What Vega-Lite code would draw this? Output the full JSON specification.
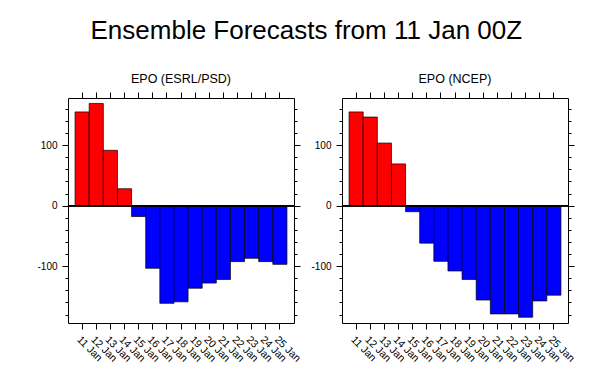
{
  "$schema": "https://vega.github.io/schema/vega-lite/v6.json",
  "background": "white",
  "padding": {"left": 36, "top": 17, "right": 0, "bottom": 0},
  "title": {"text": "Ensemble Forecasts from 11 Jan 00Z", "font": "Liberation Sans", "fontSize": 26, "fontWeight": "normal", "color": "black", "anchor": "middle", "offset": 29},
  "config": {
    "view": {"stroke": "black", "strokeWidth": 1},
    "axis": {"tickColor": "black", "tickWidth": 1, "labelColor": "black", "labelFont": "Liberation Sans", "labelFontSize": 10, "domain": false, "grid": false, "title": null, "labelOverlap": false, "labelFlush": false},
    "title": {"font": "Liberation Sans", "fontWeight": "normal", "color": "black"}
  },
  "data": {"values": [
    {"panel": "ESRL", "day": "11 Jan", "value": 155},
    {"panel": "ESRL", "day": "12 Jan", "value": 169},
    {"panel": "ESRL", "day": "13 Jan", "value": 91.5},
    {"panel": "ESRL", "day": "14 Jan", "value": 28},
    {"panel": "ESRL", "day": "15 Jan", "value": -18},
    {"panel": "ESRL", "day": "16 Jan", "value": -103.5},
    {"panel": "ESRL", "day": "17 Jan", "value": -161.5},
    {"panel": "ESRL", "day": "18 Jan", "value": -159},
    {"panel": "ESRL", "day": "19 Jan", "value": -136.5},
    {"panel": "ESRL", "day": "20 Jan", "value": -128},
    {"panel": "ESRL", "day": "21 Jan", "value": -122},
    {"panel": "ESRL", "day": "22 Jan", "value": -92.5},
    {"panel": "ESRL", "day": "23 Jan", "value": -87},
    {"panel": "ESRL", "day": "24 Jan", "value": -92.5},
    {"panel": "ESRL", "day": "25 Jan", "value": -97},
    {"panel": "NCEP", "day": "11 Jan", "value": 155},
    {"panel": "NCEP", "day": "12 Jan", "value": 146.5},
    {"panel": "NCEP", "day": "13 Jan", "value": 103.5},
    {"panel": "NCEP", "day": "14 Jan", "value": 69},
    {"panel": "NCEP", "day": "15 Jan", "value": -10},
    {"panel": "NCEP", "day": "16 Jan", "value": -62},
    {"panel": "NCEP", "day": "17 Jan", "value": -92},
    {"panel": "NCEP", "day": "18 Jan", "value": -108},
    {"panel": "NCEP", "day": "19 Jan", "value": -122},
    {"panel": "NCEP", "day": "20 Jan", "value": -156},
    {"panel": "NCEP", "day": "21 Jan", "value": -179},
    {"panel": "NCEP", "day": "22 Jan", "value": -179},
    {"panel": "NCEP", "day": "23 Jan", "value": -184.5},
    {"panel": "NCEP", "day": "24 Jan", "value": -157.5},
    {"panel": "NCEP", "day": "25 Jan", "value": -148}
  ]},
  "spacing": 7,
  "hconcat": [
    {
      "width": 226, "height": 225,
      "title": {"text": "EPO (ESRL/PSD)", "fontSize": 12.5, "offset": 6},
      "transform": [{"filter": "datum.panel === 'ESRL'"}],
      "layer": [
        {
          "mark": {"type": "bar", "stroke": "black", "strokeWidth": 0.7},
          "encoding": {
            "x": {"field": "day", "type": "ordinal", "scale": {"paddingInner": 0, "paddingOuter": 0.5}, "axis": {"orient": "bottom", "labelAngle": 45, "labelAlign": "left", "labelBaseline": "top", "tickSize": 6, "labelPadding": 5, "labelFontSize": 10.5}},
            "y": {"field": "value", "type": "quantitative", "scale": {"domain": [-194, 178], "nice": false, "zero": false}, "axis": {"orient": "left", "values": [-180, -160, -140, -120, -100, -80, -60, -40, -20, 0, 20, 40, 60, 80, 100, 120, 140, 160], "labelExpr": "datum.value % 100 === 0 ? '' + datum.value : ''", "tickSize": {"condition": {"test": "datum.value % 100 === 0", "value": 6}, "value": 3}, "labelPadding": 5}},
            "color": {"condition": {"test": "datum.value > 0", "value": "#ff0000"}, "value": "#0000ff"}
          }
        },
        {
          "mark": {"type": "bar", "opacity": 0},
          "encoding": {
            "x": {"field": "day", "type": "ordinal", "axis": {"orient": "top", "labels": false, "tickSize": 6}},
            "y": {"field": "value", "type": "quantitative", "axis": {"orient": "right", "labels": false, "values": [-180, -160, -140, -120, -100, -80, -60, -40, -20, 0, 20, 40, 60, 80, 100, 120, 140, 160], "tickSize": {"condition": {"test": "datum.value % 100 === 0", "value": 6}, "value": 3}}}
          }
        },
        {
          "mark": {"type": "rule", "color": "black", "strokeWidth": 1},
          "encoding": {"y": {"datum": 0, "type": "quantitative", "axis": null}}
        }
      ],
      "resolve": {"axis": {"x": "independent", "y": "independent"}}
    },
    {
      "width": 226, "height": 225,
      "title": {"text": "EPO (NCEP)", "fontSize": 12.5, "offset": 6},
      "transform": [{"filter": "datum.panel === 'NCEP'"}],
      "layer": [
        {
          "mark": {"type": "bar", "stroke": "black", "strokeWidth": 0.7},
          "encoding": {
            "x": {"field": "day", "type": "ordinal", "scale": {"paddingInner": 0, "paddingOuter": 0.5}, "axis": {"orient": "bottom", "labelAngle": 45, "labelAlign": "left", "labelBaseline": "top", "tickSize": 6, "labelPadding": 5, "labelFontSize": 10.5}},
            "y": {"field": "value", "type": "quantitative", "scale": {"domain": [-194, 178], "nice": false, "zero": false}, "axis": {"orient": "left", "values": [-180, -160, -140, -120, -100, -80, -60, -40, -20, 0, 20, 40, 60, 80, 100, 120, 140, 160], "labelExpr": "datum.value % 100 === 0 ? '' + datum.value : ''", "tickSize": {"condition": {"test": "datum.value % 100 === 0", "value": 6}, "value": 3}, "labelPadding": 5}},
            "color": {"condition": {"test": "datum.value > 0", "value": "#ff0000"}, "value": "#0000ff"}
          }
        },
        {
          "mark": {"type": "bar", "opacity": 0},
          "encoding": {
            "x": {"field": "day", "type": "ordinal", "axis": {"orient": "top", "labels": false, "tickSize": 6}},
            "y": {"field": "value", "type": "quantitative", "axis": {"orient": "right", "labels": false, "values": [-180, -160, -140, -120, -100, -80, -60, -40, -20, 0, 20, 40, 60, 80, 100, 120, 140, 160], "tickSize": {"condition": {"test": "datum.value % 100 === 0", "value": 6}, "value": 3}}}
          }
        },
        {
          "mark": {"type": "rule", "color": "black", "strokeWidth": 1},
          "encoding": {"y": {"datum": 0, "type": "quantitative", "axis": null}}
        }
      ],
      "resolve": {"axis": {"x": "independent", "y": "independent"}}
    }
  ]
}
